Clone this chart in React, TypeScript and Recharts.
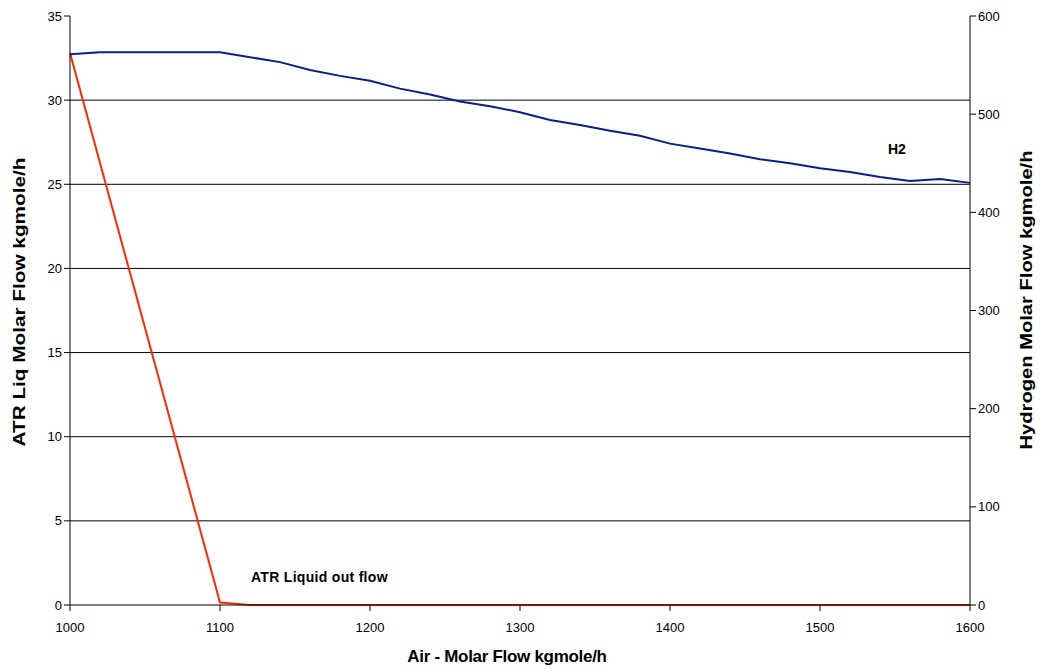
import { LineChart, Line, XAxis, YAxis, ReferenceLine } from "recharts";

const airFlow = [
  1000, 1020, 1040, 1060, 1080, 1100, 1120, 1140, 1160, 1180, 1200, 1220, 1240, 1260, 1280, 1300,
  1320, 1340, 1360, 1380, 1400, 1420, 1440, 1460, 1480, 1500, 1520, 1540, 1560, 1580, 1600,
];
const h2Flow = [
  561, 563, 563, 563, 563, 563, 558, 553, 545, 539, 534, 526, 520, 513, 508, 502,
  494, 489, 483, 478, 470, 465, 460, 454, 450, 445, 441, 436, 432, 434, 430,
];
// only the end points of the steep drop are in the table
const atrLiq = [
  32.8, null, null, null, null, 0.15, 0, 0, 0, 0, 0, 0, 0, 0, 0, 0,
  0, 0, 0, 0, 0, 0, 0, 0, 0, 0, 0, 0, 0, 0, 0,
];
const xTicks = [1000, 1100, 1200, 1300, 1400, 1500, 1600];
const leftTicks = [0, 5, 10, 15, 20, 25, 30, 35];
const rightTicks = [0, 100, 200, 300, 400, 500, 600];
const gridValues = [5, 10, 15, 20, 25, 30];

const data = airFlow.map((x, i) => ({ x, h2: h2Flow[i], atr: atrLiq[i] }));

const font = "Liberation Sans, Arial, sans-serif";
const tick = { fontSize: 13, fill: "#000", fontFamily: font };

export default function App() {
  return (
    <div style={{ position: "absolute", left: 0, top: 0, width: 1040, height: 669, background: "#fff", fontFamily: font }}>
      <LineChart width={1040} height={669} data={data} margin={{ top: 16, right: 0, bottom: 0, left: 0 }}>
        <XAxis
          dataKey="x"
          type="number"
          domain={[1000, 1600]}
          ticks={xTicks}
          tick={tick}
          tickSize={6}
          tickMargin={12}
          stroke="#000"
          height={64}
        />
        <YAxis
          yAxisId="left"
          domain={[0, 35]}
          ticks={leftTicks}
          tick={tick}
          tickSize={6}
          stroke="#000"
          width={70}
        />
        <YAxis
          yAxisId="right"
          orientation="right"
          domain={[0, 600]}
          ticks={rightTicks}
          tick={tick}
          tickSize={6}
          stroke="#000"
          width={70}
        />
        {gridValues.map((v) => (
          <ReferenceLine key={v} yAxisId="left" y={v} stroke="#000" strokeWidth={1} />
        ))}
        <Line
          yAxisId="left"
          dataKey="atr"
          stroke="#ff2a00"
          strokeWidth={2}
          dot={false}
          connectNulls
          isAnimationActive={false}
        />
        <Line
          yAxisId="right"
          dataKey="h2"
          stroke="#0a1f8f"
          strokeWidth={2}
          dot={false}
          isAnimationActive={false}
        />
      </LineChart>
      <div style={{ position: "absolute", left: 888, top: 141, fontSize: 14, fontWeight: "bold" }}>H2</div>
      <div style={{ position: "absolute", left: 251, top: 569, fontSize: 14, fontWeight: "bold", letterSpacing: 0.3 }}>ATR Liquid out flow</div>
      <div style={{ position: "absolute", left: 507, top: 647, transform: "translateX(-50%)", fontSize: 17, fontWeight: "bold", whiteSpace: "nowrap", letterSpacing: -0.3 }}>
        Air - Molar Flow kgmole/h
      </div>
      <div style={{ position: "absolute", left: 20, top: 302, transform: "translate(-50%, -50%) rotate(-90deg) scaleX(1.22)", fontSize: 17, fontWeight: "bold", whiteSpace: "nowrap" }}>
        ATR Liq Molar Flow kgmole/h
      </div>
      <div style={{ position: "absolute", left: 1027, top: 300, transform: "translate(-50%, -50%) rotate(-90deg) scaleX(1.26)", fontSize: 16, fontWeight: "bold", whiteSpace: "nowrap" }}>
        Hydrogen Molar Flow kgmole/h
      </div>
    </div>
  );
}
